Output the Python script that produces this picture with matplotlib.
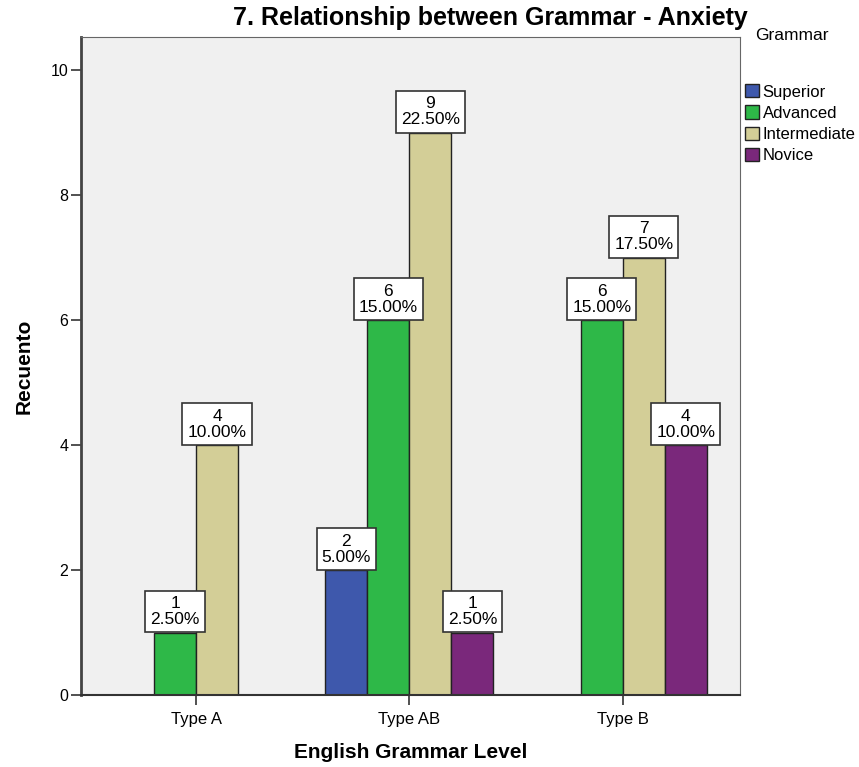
import matplotlib
matplotlib.use("Agg")
import numpy as np
from matplotlib import pyplot as plt

plt.rcParams['font.family'] = ['Liberation Sans', 'DejaVu Sans']

categories = ["Type A", "Type AB", "Type B"]
groups = ["Superior", "Advanced", "Intermediate", "Novice"]
superior = [0, 2, 0]
advanced = [1, 6, 6]
intermediate = [4, 9, 7]
novice = [0, 1, 4]
total = 40

colors = ["#3E58AC", "#2EB848", "#D3CE97", "#7A287B"]
series = [superior, advanced, intermediate, novice]

fig = plt.figure(figsize=(8.59, 7.67), dpi=100)
ax = fig.add_axes([81 / 859, 1 - 695 / 767, 659 / 859, 658 / 767])
ax.set_facecolor("#F0F0F0")

x = np.arange(len(categories))
w = 0.197
for i, (name, vals, c) in enumerate(zip(groups, series, colors)):
    pos = x + (i - 1.5) * w
    for xp, v in zip(pos, vals):
        if v == 0:
            continue
        ax.bar(xp, v, width=w, color=c, edgecolor="#222222", linewidth=1)
        ax.annotate("%d\n%.2f%%" % (v, v / total * 100), (xp, v),
                    xytext=(0, 3.8), textcoords="offset points",
                    ha="center", va="bottom", fontsize=12.5, linespacing=1.1,
                    bbox=dict(boxstyle="square,pad=0.3", fc="white",
                              ec="#333333", lw=1.2))
    ax.bar(0, 0, width=0, color=c, edgecolor="#222222", label=name)

ax.set_xlim(-0.54, 2.55)
ax.set_ylim(0, 10.53)
ax.set_xticks(x)
ax.set_xticklabels(categories, fontsize=12)
ax.set_yticks([0, 2, 4, 6, 8, 10])
ax.tick_params(axis="y", labelsize=11.5, length=7, width=1.2, color="#333333", pad=2)
ax.tick_params(axis="x", length=7, width=1.2, color="#333333", pad=5)
for s in ax.spines.values():
    s.set_color("#666666")
ax.spines["left"].set_linewidth(2)
ax.spines["left"].set_color("#444444")
ax.spines["bottom"].set_linewidth(1.5)
ax.spines["bottom"].set_color("#333333")

ax.set_ylabel("Recuento", fontsize=15, fontweight="bold", labelpad=12)
ax.set_xlabel("English Grammar Level", fontsize=15, fontweight="bold", labelpad=12)
fig.text(490 / 859, 1 - 18 / 767, "7. Relationship between Grammar - Anxiety",
         ha="center", va="center", fontsize=18, fontweight="bold")

leg = ax.legend(title="Grammar", loc="upper left", bbox_to_anchor=(1.0, 1.022),
                frameon=False, fontsize=12, title_fontsize=12.5,
                handlelength=0.85, handleheight=0.85, handletextpad=0.2,
                labelspacing=0.35, borderaxespad=0.2, borderpad=0.1)
leg._legend_box.sep = 30
leg._legend_box.align = "left"
leg.get_title().set_position((10, 0))

fig.savefig("out.png", dpi=100)
